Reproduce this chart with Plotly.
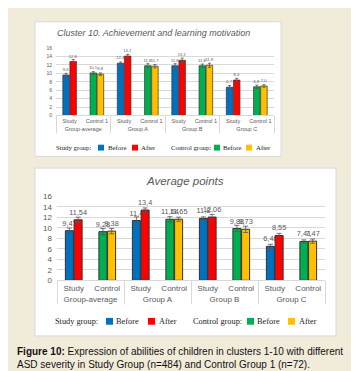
import plotly.graph_objects as go

W, H = 359, 371

groups = ["Group-average", "Group A", "Group B", "Group C"]
top_subs = ["Study", "Control 1"]
bot_subs = ["Study", "Control"]

# Top chart: Cluster 10
top_before = [9.6, 10.1, 12.4, 11.8, 11.8, 11.8, 6.7, 6.8]
top_after = [12.8, 9.8, 14.1, 11.7, 13.1, 11.9, 8.4, 7.0]
top_before_err = [0.4, 0.3, 0.3, 0.5, 0.5, 0.4, 0.4, 0.4]
top_after_err = [0.5, 0.3, 0.4, 0.4, 0.5, 0.5, 0.4, 0.3]

# Bottom chart: Average points
bot_before = [9.47, 9.28, 11.4, 11.64, 11.8, 9.88, 6.48, 7.41]
bot_after = [11.54, 9.38, 13.4, 11.65, 12.06, 9.73, 8.55, 7.47]
bot_before_err = [0.5, 0.6, 0.7, 0.5, 0.3, 0.6, 0.4, 0.3]
bot_after_err = [0.5, 0.5, 0.4, 0.4, 0.5, 0.6, 0.4, 0.4]

y_ticks = [0, 2, 4, 6, 8, 10, 12, 14, 16]

legend_group_labels = ["Study group:", "Control group:"]
legend_item_labels = ["Before", "After"]

BLUE, RED, GREEN, YELLOW = "#0070C0", "#FF0000", "#00B050", "#FFC000"
BG = "#F1EBDA"
GRAY = "#595959"


def px(x):
    return x / W


def py(y):
    return 1 - y / H


def fmt(v):
    return str(v).replace(".", ",")


def mcx(subs):
    g, s = [], []
    for grp in groups:
        for sub in subs:
            g.append(grp)
            s.append(sub)
    return [g, s]


fig = go.Figure()


def add_bars(subs, before, after, berr, aerr, xa, ya, tsize, lw, cap):
    x = mcx(subs)
    for vals, err, cols in ((before, berr, [BLUE, GREEN] * 4), (after, aerr, [RED, YELLOW] * 4)):
        fig.add_trace(go.Bar(
            x=x, y=vals, xaxis=xa, yaxis=ya, showlegend=False,
            marker=dict(color=cols, line=dict(color="#333333", width=lw)),
            error_y=dict(type="data", array=err, color="#555555", thickness=0.8, width=cap),
            text=[fmt(v) for v in vals], textposition="outside", cliponaxis=False,
            constraintext="none",
            textfont=dict(size=tsize, color=GRAY, family="Liberation Sans"),
        ))


add_bars(top_subs, top_before, top_after, top_before_err, top_after_err, "x", "y", 4.2, 0.7, 1.5)
add_bars(bot_subs, bot_before, bot_after, bot_before_err, bot_after_err, "x2", "y2", 7.3, 1, 2.5)

# panels
shapes = [
    dict(type="rect", xref="paper", yref="paper", x0=px(27), x1=px(273), y0=py(148), y1=py(10),
         fillcolor="white", line=dict(color="#D9D9D9", width=1), layer="below"),
    dict(type="rect", xref="paper", yref="paper", x0=px(27), x1=px(328), y0=py(332), y1=py(160),
         fillcolor="white", line=dict(color="#D9D9D9", width=1), layer="below"),
]

annotations = [
    dict(text="<i>Cluster 10. Achievement and learning motivation</i>", x=px(145), y=py(22),
         xref="paper", yref="paper", showarrow=False, xanchor="center", yanchor="middle",
         font=dict(size=9, color=GRAY, family="Liberation Sans")),
    dict(text="<i>Average points</i>", x=px(177), y=py(173),
         xref="paper", yref="paper", showarrow=False, xanchor="center", yanchor="middle",
         font=dict(size=11.5, color=GRAY, family="Liberation Sans")),
    dict(text="<b>Figure 10:</b> Expression of abilities of children in clusters 1-10 with different<br>"
              "ASD severity in Study Group (n=484) and Control Group 1 (n=72).",
         x=px(7), y=py(355), xref="paper", yref="paper", showarrow=False, xanchor="left",
         yanchor="middle", align="left",
         font=dict(size=10, color="#111111", family="Liberation Sans")),
]


def add_legend(yc, fsize, sq, group_x, sq_x, item_x):
    colors = [[BLUE, RED], [GREEN, YELLOW]]
    for gi, glabel in enumerate(legend_group_labels):
        annotations.append(dict(
            text=glabel, x=px(group_x[gi]), y=py(yc), xref="paper", yref="paper",
            showarrow=False, xanchor="left", yanchor="middle",
            font=dict(size=fsize, color="#1a1a1a", family="Liberation Serif")))
        for ii, ilabel in enumerate(legend_item_labels):
            sx = sq_x[gi * 2 + ii]
            shapes.append(dict(
                type="rect", xref="paper", yref="paper",
                x0=px(sx), x1=px(sx + sq), y0=py(yc + sq / 2), y1=py(yc - sq / 2),
                fillcolor=colors[gi][ii], line=dict(width=0)))
            annotations.append(dict(
                text=ilabel, x=px(item_x[gi * 2 + ii]), y=py(yc), xref="paper", yref="paper",
                showarrow=False, xanchor="left", yanchor="middle",
                font=dict(size=fsize, color="#1a1a1a", family="Liberation Serif")))


add_legend(139, 6.8, 6, [46, 161], [90, 124, 206, 238], [98, 131, 213, 246])
add_legend(317, 8.3, 7, [45, 183], [98, 140, 239, 280], [106, 149, 247, 289])

axis_common_y = dict(range=[0, 16], tickvals=y_ticks, showgrid=True, gridcolor="#D9D9D9",
                     gridwidth=0.8, zeroline=False, showline=False, ticks="")
axis_common_x = dict(type="multicategory", showline=True, linecolor="#D9D9D9", linewidth=1,
                     ticks="", showdividers=True, dividercolor="#D9D9D9", dividerwidth=1,
                     showgrid=False, tickangle=0)

fig.update_layout(
    width=W, height=H,
    margin=dict(l=0, r=0, t=0, b=0),
    paper_bgcolor=BG, plot_bgcolor="rgba(0,0,0,0)",
    barmode="group", bargap=0.48, bargroupgap=0.08,
    shapes=shapes, annotations=annotations,
    xaxis=dict(domain=[px(48), px(266)], anchor="y",
               tickfont=dict(size=5.5, color=GRAY, family="Liberation Sans"), **axis_common_x),
    yaxis=dict(domain=[py(106), py(37)], anchor="x",
               tickfont=dict(size=5, color=GRAY, family="Liberation Sans"), ticklabelstandoff=3,
               **axis_common_y),
    xaxis2=dict(domain=[px(49), px(317)], anchor="y2",
                tickfont=dict(size=8, color=GRAY, family="Liberation Sans"), **axis_common_x),
    yaxis2=dict(domain=[py(275), py(189)], anchor="x2",
                tickfont=dict(size=8, color=GRAY, family="Liberation Sans"), ticklabelstandoff=4,
                **axis_common_y),
)

fig.write_html("out.html")
